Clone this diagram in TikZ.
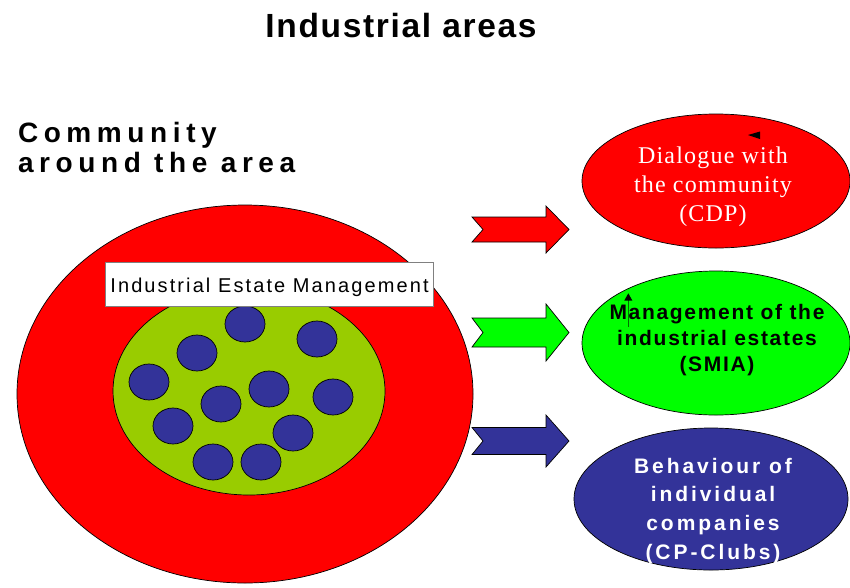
\documentclass[tikz,border=0pt]{standalone}
\usepackage{fontspec}
\setmainfont{Liberation Serif}
\setsansfont{Liberation Sans}
\newfontfamily\titlef[LetterSpace=5]{Liberation Sans}
\newfontfamily\commf[LetterSpace=20]{Liberation Sans}
\newfontfamily\labelf[LetterSpace=10.5]{Liberation Sans}
\newfontfamily\cdpf[LetterSpace=5]{Liberation Serif}
\newfontfamily\smiaf[LetterSpace=8]{Liberation Sans}
\newfontfamily\cpf[LetterSpace=14]{Liberation Sans}
\usetikzlibrary{shapes.geometric}
\definecolor{pptred}{RGB}{255,0,0}
\definecolor{pptlime}{RGB}{0,255,0}
\definecolor{pptolive}{RGB}{153,204,0}
\definecolor{pptblue}{RGB}{51,51,153}
\definecolor{boxgray}{RGB}{128,128,128}
\definecolor{shaftgreen}{RGB}{0,110,0}
\tikzset{
  outl/.style={draw=black, line width=0.7pt},
  oval/.style={ellipse, outl, inner sep=0pt},
  company/.style={oval, fill=pptblue, minimum width=40pt, minimum height=36pt},
  blockarrow/.style={outl, line join=miter},
  plain/.style={inner sep=0pt, outer sep=0pt}
}
\newcommand{\myblockarrow}[4]{%
  \draw[blockarrow, fill=#4]
    (472,{#1-#2}) -- (546,{#1-#2}) -- (546,{#1-#3}) -- (569,#1)
    -- (546,{#1+#3}) -- (546,{#1+#2}) -- (472,{#1+#2}) -- (483,#1) -- cycle;}
\begin{document}
\begin{tikzpicture}[x=1pt,y=-1pt]
\useasboundingbox (0,0) rectangle (850,587);

% title
\node[plain, anchor=base, font=\titlef\bfseries\fontsize{33.5}{40}\selectfont] (title) at (401,37) {Industrial areas};

% community text (anchor base = baseline of last line)
\node[plain, anchor=base west, align=left, font=\commf\bfseries\fontsize{28}{30}\selectfont] (commtext) at (18,172) {Community\\around the area};

% big community ellipse
\node[oval, fill=pptred, minimum width=456pt, minimum height=378pt] (community) at (245,394) {};
% industrial estate
\node[oval, fill=pptolive, minimum width=272pt, minimum height=208pt] (estate) at (249,391) {};

% companies
\foreach \cx/\cy [count=\i] in {245/324, 317/339, 197/353, 149/382, 269/389, 333/397, 221/404, 173/426, 293/433, 213/462, 261/462}
  \node[company] (c\i) at (\cx,\cy) {};

% label box
\node[draw=boxgray, line width=0.7pt, fill=white, minimum width=328pt, minimum height=44pt, inner sep=0pt,
      text height=17.4pt, text depth=0pt, font=\labelf\fontsize{20}{24}\selectfont] (iem) at (269.5,284) {Industrial Estate Management};

% block arrows
\myblockarrow{229.5}{12.5}{23.5}{pptred}
\myblockarrow{332.5}{14.5}{28.5}{pptlime}
\myblockarrow{441}{13.5}{26}{pptblue}

% right ellipses
\node[oval, fill=pptred, minimum width=268pt, minimum height=134pt] (cdp) at (716,181) {};
\node[oval, fill=pptlime, minimum width=268pt, minimum height=144pt] (smia) at (716,343) {};
\node[oval, fill=pptblue, minimum width=274pt, minimum height=142pt] (cpclubs) at (711,499) {};

% texts in ellipses (anchor base = baseline of last line)
\node[plain, anchor=base, align=center, text=white, font=\cdpf\fontsize{24}{29.2}\selectfont] (cdptext) at (713,221.7) {Dialogue with\\the community\\(CDP)};
\node[plain, anchor=base, align=center, font=\smiaf\bfseries\fontsize{21}{25.9}\selectfont] (smiatext) at (717,371.7) {Management of the\\industrial estates\\(SMIA)};
\node[plain, anchor=base, align=center, text=white, font=\cpf\bfseries\fontsize{21}{28.7}\selectfont] (cptext) at (713,559.3) {Behaviour of\\individual\\companies\\(CP-Clubs)};

% small stray arrowheads
\coordinate (tipA) at (748,135);
\fill[black] (tipA) -- (760,131.5) -- (760,139) -- cycle;
\coordinate (tipB) at (628.3,293.3);
\coordinate (baseB) at (628.3,326.7);
\draw[shaftgreen, line width=1pt] (baseB) -- (628.3,300);
\fill[black] (tipB) -- (632.3,300.5) -- (624.3,300.5) -- cycle;
\end{tikzpicture}
\end{document}
